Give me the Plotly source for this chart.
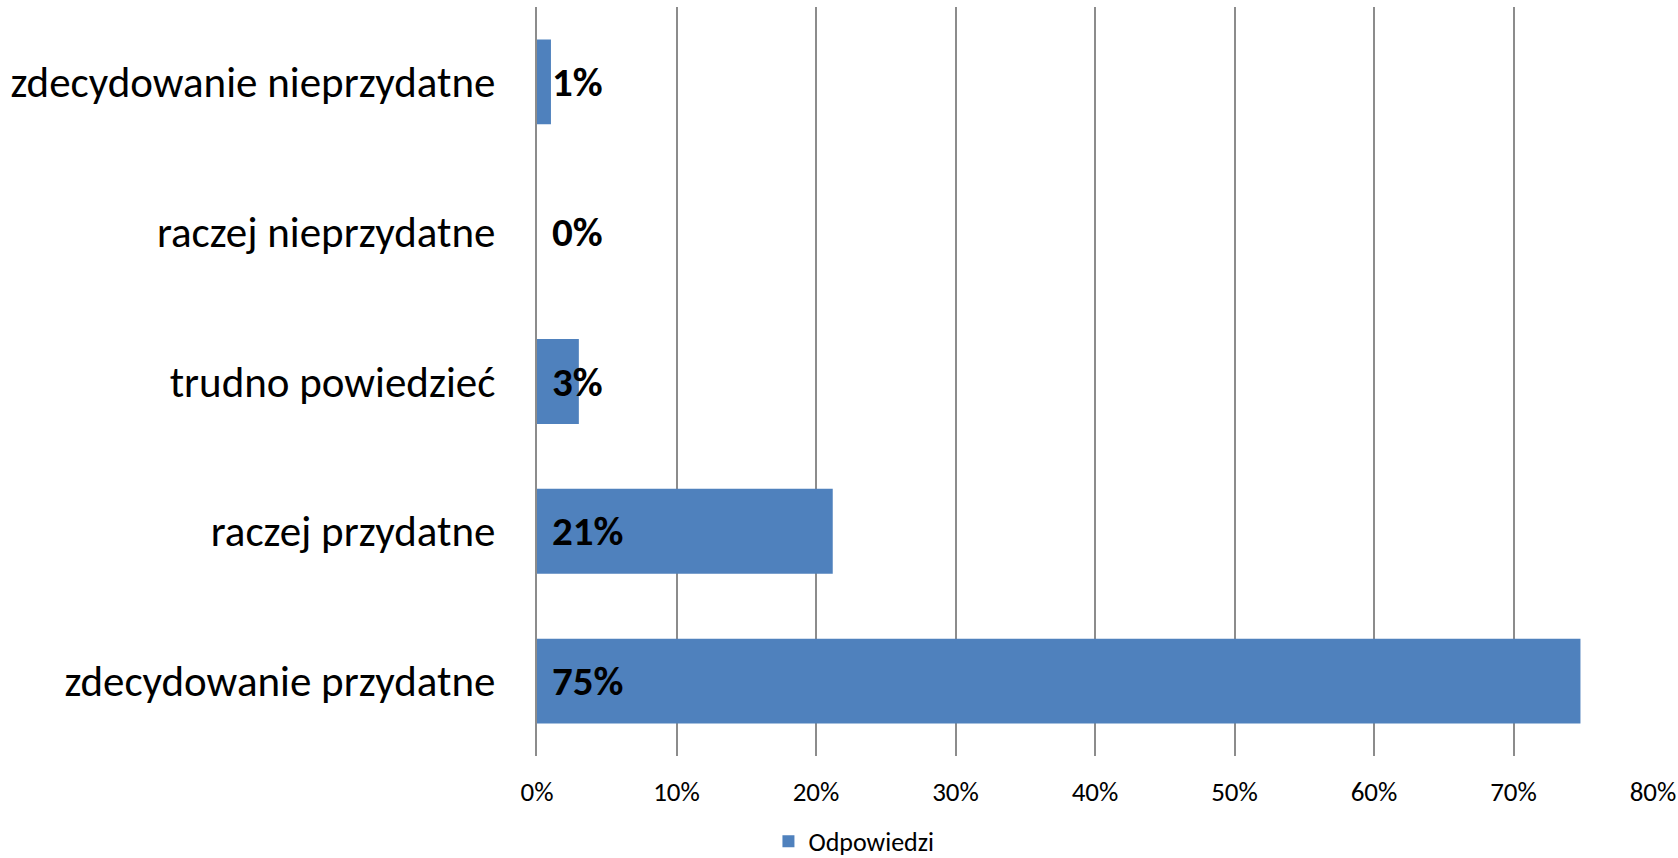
import plotly.graph_objects as go

# Data (bottom-to-top order on the chart)
categories = [
    "zdecydowanie przydatne",
    "raczej przydatne",
    "trudno powiedzieć",
    "raczej nieprzydatne",
    "zdecydowanie nieprzydatne",
]
values = [0.748, 0.212, 0.03, 0.0, 0.01]
value_labels = ["75%", "21%", "3%", "0%", "1%"]
x_ticks = [0, 0.1, 0.2, 0.3, 0.4, 0.5, 0.6, 0.7, 0.8]
x_tick_labels = ["0%", "10%", "20%", "30%", "40%", "50%", "60%", "70%", "80%"]
series_name = "Odpowiedzi"

FONT = "Carlito, Lato, sans-serif"
BAR = "#4F81BD"
GRID = "#8C8C8C"

fig = go.Figure()
fig.add_trace(go.Bar(
    y=categories, x=values, orientation="h", name=series_name,
    marker=dict(color=BAR, line=dict(width=0)),
    hoverinfo="skip",
))

for c, v, t in zip(categories, values, value_labels):
    fig.add_annotation(
        x=0, y=c, xref="x", yref="y", text="<b>%s</b>" % t,
        showarrow=False, xanchor="left", yanchor="middle", xshift=13,
        font=dict(family=FONT, size=41, color="#000000"),
    )

fig.update_layout(
    width=1678, height=858,
    margin=dict(l=537, r=25, t=6.5, b=101.5, autoexpand=False),
    paper_bgcolor="white", plot_bgcolor="white",
    bargap=0.433,
    showlegend=True,
    legend=dict(
        orientation="h", x=0.284, xanchor="center", y=-0.114, yanchor="middle",
        font=dict(family=FONT, size=26, color="#000000"),
        itemwidth=30, bgcolor="rgba(0,0,0,0)",
    ),
    xaxis=dict(
        range=[0, 0.8], tickvals=x_ticks, ticktext=x_tick_labels,
        showgrid=True, gridcolor=GRID, gridwidth=2,
        zeroline=False, showline=False, ticks="",
        ticklabelstandoff=17,
        tickfont=dict(family=FONT, size=27, color="#000000"),
        fixedrange=True,
    ),
    yaxis=dict(
        showgrid=False, zeroline=False,
        showline=True, linecolor=GRID, linewidth=2,
        ticks="", ticklabelstandoff=31,
        tickfont=dict(family=FONT, size=43, color="#000000"),
        fixedrange=True,
    ),
)

fig.write_html(
    "out.html",
    config={"displayModeBar": False, "staticPlot": True},
    post_script="document.body.style.margin='0';document.body.style.overflow='hidden';",
)
